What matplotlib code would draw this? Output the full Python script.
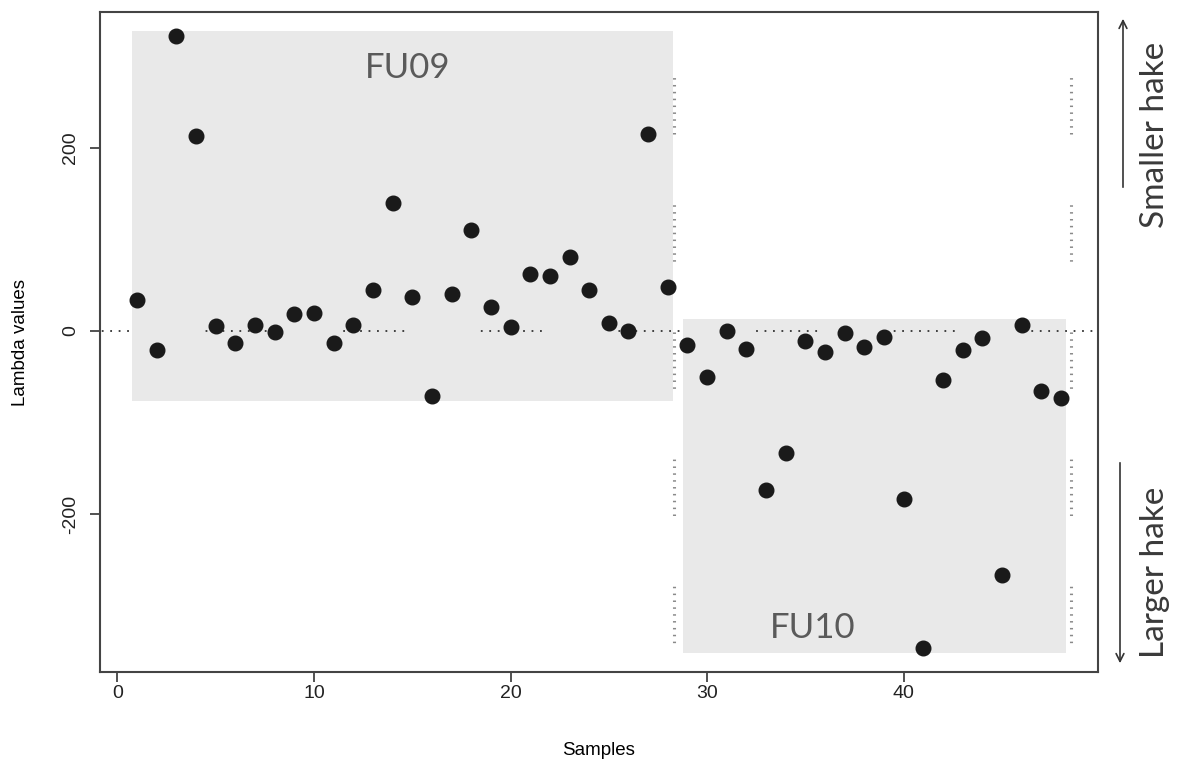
import matplotlib.pyplot as plt
from matplotlib.patches import FancyArrowPatch, Rectangle
import numpy as np

# lambda value per sample; samples 1-28 are FU09, 29-48 are FU10
samples = np.arange(1, 49)
lambda_vals = [34, -21, 322, 213, 5, -13, 7, -1, 19, 20,
               -13, 7, 45, 140, 37, -71, 41, 110, 26, 4,
               62, 60, 81, 45, 9, 0, 215, 48,
               -15, -50, 0, -20, -174, -133, -11, -23, -2, -18,
               -7, -184, -346, -53, -21, -8, -267, 7, -66, -73]
groups = ['FU09', 'FU10']
group_of = ['FU09'] * 28 + ['FU10'] * 20
y_ticks = [-200, 0, 200]
x_ticks = [0, 10, 20, 30, 40]

W, H, DPI = 1179, 767, 100
plt.rcParams['lines.scale_dashes'] = False
fig = plt.figure(figsize=(W / DPI, H / DPI), dpi=DPI)
ax = fig.add_axes([100 / W, 1 - 672 / H, 998 / W, 660 / H])

x = samples.astype(float)
y = np.array(lambda_vals, dtype=float)
g = np.array(group_of)

# R-style 4% axis extension
def ext(a, b, f=0.04):
    r = b - a
    return a - f * r, b + f * r

xlim = ext(x.min(), x.max())
ylim = ext(y.min(), y.max())
ax.set_xlim(*xlim)
ax.set_ylim(*ylim)

# grey boxes spanning each group
for name in groups:
    m = g == name
    x0, x1 = x[m].min() - 0.25, x[m].max() + 0.25
    y0, y1 = y[m].min() - 6, y[m].max() + 6
    ax.add_patch(Rectangle((x0, y0), x1 - x0, y1 - y0,
                           facecolor='#e9e9e9', edgecolor='none', zorder=0))

# dotted runs: dash pattern given in data units, converted to points
px_x = 998 / (xlim[1] - xlim[0])
px_y = 660 / (ylim[1] - ylim[0])
to_pt = 72 / DPI

def dotted(period, run, step, dot, scale):
    n = int(round(run / step))
    pat = [dot, step * scale - dot] * n + [dot, (period - n * step) * scale - dot]
    return [float(v * to_pt) for v in pat]

h_pat = dotted(7.0, 3.2, 0.43, 1.8, px_x)
ax.plot(xlim, [0, 0], color='#333333', lw=1.3, dash_capstyle='butt',
        linestyle=(float(1.63 * px_x * to_pt), h_pat), zorder=1)

v_pat = dotted(139, 58, 7.5, 1.5, px_y)
v_off = float((139 - (ylim[1] - 277)) * px_y * to_pt)
for xv in [28.3, 48.5]:
    ax.plot([xv, xv], [ylim[1], ylim[0]], color='#8a8a8a', lw=2.2,
            dash_capstyle='butt', linestyle=(v_off, v_pat), zorder=1)

ax.plot(x, y, 'o', color='#1a1a1a', ms=10.5, zorder=3)

label_kw = dict(fontsize=25, color='#5a5a5a', family='Lato',
                ha='center', va='center')
ax.text(14.75, 288, 'FU09', **label_kw)
ax.text(35.35, -325, 'FU10', **label_kw)

ax.set_xticks(x_ticks)
ax.set_yticks(y_ticks)
ax.set_yticklabels([str(t) for t in y_ticks], rotation=90, va='center')
ax.tick_params(length=7, width=1.2, color='#333333', labelsize=14,
               labelcolor='#222222')
ax.tick_params(axis='x', pad=2)
ax.tick_params(axis='y', pad=8)
for s in ax.spines.values():
    s.set_color('#444444')
    s.set_linewidth(1.5)
for lab in ax.get_xticklabels() + ax.get_yticklabels():
    lab.set_family('Liberation Sans')

ax.set_xlabel('Samples', fontsize=13.5, family='Liberation Sans', labelpad=29)
ax.set_ylabel('Lambda values', fontsize=13.5, family='Liberation Sans', labelpad=24)

# direction notes to the right of the frame
side = dict(fontsize=24, color='#3a3a3a', family='Lato',
            rotation=90, ha='center', va='center')
fig.text(1155 / W, 1 - 135 / H, 'Smaller hake', **side)
fig.text(1155 / W, 1 - 572 / H, 'Larger hake', **side)
arrow = dict(arrowstyle='->', color='#333333', lw=1.2, mutation_scale=14)
fig.add_artist(FancyArrowPatch((1123 / W, 1 - 190 / H), (1123 / W, 1 - 16 / H),
                               transform=fig.transFigure, **arrow))
fig.add_artist(FancyArrowPatch((1120 / W, 1 - 460 / H), (1120 / W, 1 - 666 / H),
                               transform=fig.transFigure, **arrow))

fig.savefig('out.png', dpi=DPI)
